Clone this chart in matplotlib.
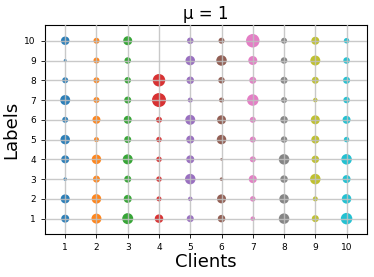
import matplotlib.pyplot as plt
import numpy as np

clients = np.arange(1, 11)
labels = np.arange(1, 11)

# marker diameters (px), one list per client, labels 1..10
diam_client_1 = [8, 9, 3.5, 8, 9.5, 6, 10, 6, 3, 8.5]
diam_client_2 = [10, 9.5, 7, 9.5, 5, 8, 6, 6, 6, 6]
diam_client_3 = [11, 8, 7, 10, 7, 8, 7, 6.5, 6.5, 9]
diam_client_4 = [8.5, 5, 5.5, 5.5, 5.5, 6, 14, 12.5, 0, 0]
diam_client_5 = [7, 4.5, 10.5, 8, 8, 10, 5, 7.5, 9.5, 6.5]
diam_client_6 = [7.5, 9, 3.5, 2.5, 9.5, 9, 5, 6.5, 10.5, 6]
diam_client_7 = [4.5, 5.5, 8, 6, 6, 6, 11.5, 7, 9, 13.5]
diam_client_8 = [10.5, 9.5, 7.5, 10.5, 6.5, 7.5, 6, 7, 6.5, 6]
diam_client_9 = [7, 5, 10.5, 7.5, 8, 9, 4.5, 7, 10, 8]
diam_client_10 = [11.5, 9.5, 8, 10.5, 5.5, 8, 6.5, 7, 6.5, 5.5]

diams = [
    diam_client_1, diam_client_2, diam_client_3, diam_client_4, diam_client_5,
    diam_client_6, diam_client_7, diam_client_8, diam_client_9, diam_client_10,
]

dpi = 100
fig = plt.figure(figsize=(3.74, 2.77), dpi=dpi)
ax = fig.add_axes([0.120, 0.155, 0.861, 0.755])

colors = plt.get_cmap("tab10").colors
for i, c in enumerate(clients):
    d = np.array(diams[i], dtype=float)
    s = (d * 72 / dpi) ** 2
    ax.scatter(np.full(len(labels), c), labels, s=s, color=colors[i],
               linewidths=0, alpha=0.95, zorder=1)

# grid drawn on top of the markers, like the original
ax.set_axisbelow(False)
ax.grid(True, color="#c0c0c0", linewidth=1.0, alpha=0.85)
ax.set_xticks(clients)
ax.set_yticks(labels)
ax.set_xlim(0.35, 10.65)
ax.set_ylim(0.22, 10.8)
ax.tick_params(labelsize=6.5, length=3, width=0.6)
for sp in ax.spines.values():
    sp.set_linewidth(0.8)
ax.set_xlabel("Clients", fontsize=13, labelpad=1)
ax.set_ylabel("Labels", fontsize=13, labelpad=3)
ax.set_title("μ = 1", fontsize=12, pad=4)

fig.savefig("out.png", dpi=dpi)
